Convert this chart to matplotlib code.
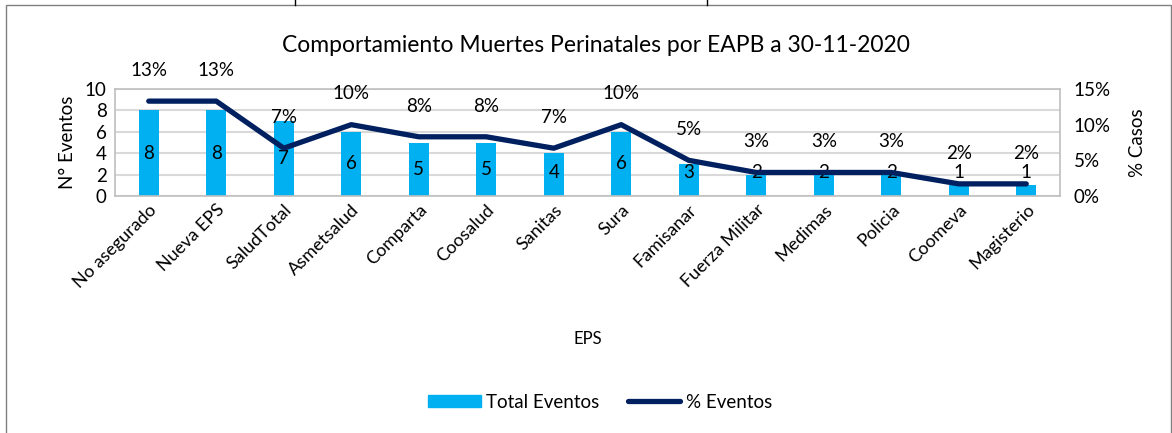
import matplotlib
matplotlib.use("Agg")
import matplotlib.pyplot as plt
from matplotlib.patches import Rectangle
from matplotlib.lines import Line2D
from matplotlib.ticker import FuncFormatter

categories = ["No asegurado", "Nueva EPS", "SaludTotal", "Asmetsalud", "Comparta",
              "Coosalud", "Sanitas", "Sura", "Famisanar", "Fuerza Militar",
              "Medimas", "Policia", "Coomeva", "Magisterio"]
total_eventos = [8, 8, 7, 6, 5, 5, 4, 6, 3, 2, 2, 2, 1, 1]
pct_eventos = [13.3, 13.3, 6.7, 10.0, 8.3, 8.3, 6.7, 10.0, 5.0, 3.3, 3.3, 3.3, 1.7, 1.7]
pct_labels = ["13%", "13%", "7%", "10%", "8%", "8%", "7%", "10%", "5%", "3%", "3%", "3%", "2%", "2%"]

plt.rcParams['font.family'] = ['Lato', 'DejaVu Sans']
W, H = 1172, 433
fig = plt.figure(figsize=(W/100, H/100), dpi=100)

def fx(px): return px / W
def fy(py): return 1 - py / H

FS = 13.5

# chart frame
fig.patches.append(Rectangle((fx(6), fy(440)), fx(1165), fy(5) - fy(440),
                             transform=fig.transFigure, fill=False,
                             edgecolor='#808080', lw=1.0))
# spreadsheet remnants at top
fig.add_artist(Line2D([fx(295), fx(295)], [fy(0), fy(5)], transform=fig.transFigure, color='black', lw=1))
fig.add_artist(Line2D([fx(707), fx(707)], [fy(0), fy(5)], transform=fig.transFigure, color='black', lw=1))

ax = fig.add_axes([fx(115), fy(196), fx(1060-115), fy(89) - fy(196)])
x = list(range(len(categories)))
ax.bar(x, total_eventos, width=0.3, color='#00B0F0', zorder=2)
ax.set_xlim(-0.5, len(categories) - 0.5)
ax.set_ylim(0, 10)
ax.set_yticks(range(0, 11, 2))
ax.yaxis.grid(True, color='#D9D9D9', lw=1.5, zorder=0)
ax.tick_params(axis='y', length=0, labelsize=FS, pad=6)
ax.tick_params(axis='x', length=0, labelsize=13, pad=4)
ax.set_xticks(x)
ax.set_xticklabels(categories, rotation=45, ha='right', rotation_mode='anchor')
for s in ax.spines.values():
    s.set_color('#BFBFBF')
    s.set_linewidth(1.2)
ax.set_ylabel("N° Eventos", fontsize=FS, labelpad=6)
ax.set_xlabel("EPS", fontsize=12, labelpad=29)

for xi, v in zip(x, total_eventos):
    ax.text(xi, max(v / 2, 2.2), str(v), ha='center', va='center', fontsize=FS, zorder=5)

ax2 = ax.twinx()
ax2.plot(x, pct_eventos, color='#002060', lw=3.8, solid_capstyle='round', zorder=4)
ax2.set_ylim(0, 15)
ax2.set_yticks([0, 5, 10, 15])
ax2.yaxis.set_major_formatter(FuncFormatter(lambda v, p: f"{int(v)}%"))
ax2.tick_params(axis='y', length=0, labelsize=FS, pad=10)
for s in ax2.spines.values():
    s.set_visible(False)
ax2.set_ylabel("% Casos", fontsize=FS, labelpad=13)
for xi, p, lab in zip(x, pct_eventos, pct_labels):
    ax2.annotate(lab, (xi, p), xytext=(0, 16), textcoords='offset points',
                 ha='center', va='bottom', fontsize=FS, annotation_clip=False)

fig.text(fx(596), fy(45), "Comportamiento Muertes Perinatales por EAPB a 30-11-2020",
         ha='center', va='center', fontsize=16.5)

handles = [Rectangle((0, 0), 1, 1, color='#00B0F0'),
           Line2D([0], [0], color='#002060', lw=3.8, solid_capstyle='round')]
fig.legend(handles, ["Total Eventos", "% Eventos"], loc='center',
           bbox_to_anchor=(fx(600), fy(402)), ncol=2, frameon=False,
           fontsize=FS, handlelength=2.8, handleheight=0.6, handletextpad=0.3,
           columnspacing=1.5)

fig.savefig("out.png", dpi=100)
